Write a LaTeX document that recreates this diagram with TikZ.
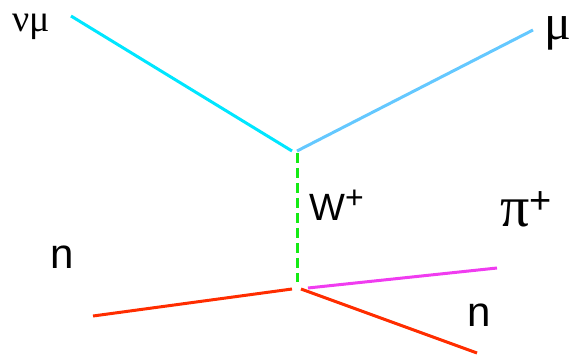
\documentclass[tikz,border=0pt]{standalone}
\usepackage{fontspec}
\setmainfont{Liberation Sans}
\newfontfamily\grk{Liberation Serif}
\definecolor{nucyan}{RGB}{0,230,255}
\definecolor{mublue}{RGB}{100,200,255}
\definecolor{wgreen}{RGB}{20,235,20}
\definecolor{nred}{RGB}{255,45,0}
\definecolor{pimag}{RGB}{240,60,240}
\tikzset{
  leg/.style={line width=3pt},
  lbl/.style={inner sep=0pt, anchor=base west},
}
\begin{document}
\begin{tikzpicture}[x=1pt,y=-1pt]
\useasboundingbox (0,0) rectangle (581,356);
\coordinate (nuA) at (71,16);
\coordinate (nuB) at (292,151);
\coordinate (muA) at (297,151);
\coordinate (muB) at (533,30);
\coordinate (wA) at (297,153);
\coordinate (wB) at (297,282);
\coordinate (nlA) at (93,316);
\coordinate (nlB) at (292,289);
\coordinate (nrA) at (301,289);
\coordinate (nrB) at (477,353);
\coordinate (piA) at (308,288);
\coordinate (piB) at (497,268);
\draw[leg, nucyan] (nuA) -- (nuB);
\draw[leg, mublue] (muA) -- (muB);
\draw[leg, wgreen, dash pattern=on 10pt off 5pt] (wA) -- (wB);
\draw[leg, nred] (nlA) -- (nlB);
\draw[leg, nred] (nrA) -- (nrB);
\draw[leg, pimag] (piA) -- (piB);
\node[lbl] (numu) at (12,31) {\fontsize{38}{42}\selectfont\grk νμ};
\node[lbl] (mu) at (544,39) {\fontsize{50}{54}\selectfont\grk μ};
\node[lbl] (W) at (309,220) {\fontsize{38}{44}\selectfont W\raisebox{12pt}{\fontsize{32}{36}\selectfont +}};
\node[lbl] (pi) at (500,226) {\fontsize{58}{62}\selectfont{\grk π}\raisebox{13pt}{\fontsize{38}{40}\selectfont +}};
\node[lbl] (nl) at (50,268) {\fontsize{42}{48}\selectfont n};
\node[lbl] (nr) at (467,326) {\fontsize{42}{48}\selectfont n};
\end{tikzpicture}
\end{document}
